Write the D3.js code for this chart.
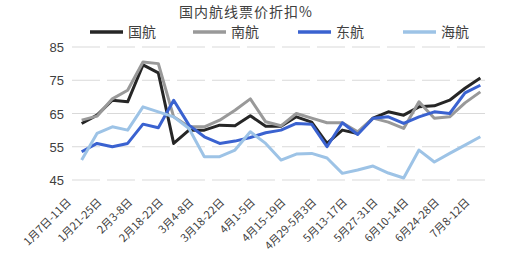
<!DOCTYPE html>
<html>
<head>
<meta charset="utf-8">
<script src="https://cdn.jsdelivr.net/npm/d3@7"></script>
<style>
  body { margin: 0; background: #fff; }
  svg text { font-family: "Noto Sans CJK SC", "Noto Sans", sans-serif; }
</style>
</head>
<body>
<svg id="chart" width="530" height="260"></svg>
<script>
// weekly periods, label shown every other week
var weeks = ["1月7日-11日","w2","1月21-25日","w4","2月3-8日","w6","2月18-22日","w8",
  "3月4-8日","w10","3月18-22日","w12","4月1-5日","w14","4月15-19日","w16",
  "4月29-5月3日","w18","5月13-17日","w20","5月27-31日","w22","6月10-14日","w24",
  "6月24-28日","w26","7月8-12日"];

var airCA   = [62, 64.5, 69, 68.5, 79.6, 77.2, 56, 60, 60, 61.5, 61.3, 64.3, 61.2, 61.2,
  64, 62.4, 56, 60, 59, 63.6, 65.5, 64.5, 67, 67.3, 69, 72.6, 75.7];
var csAir   = [63, 64.2, 69.4, 72, 80.5, 80, 64, 61, 61, 63, 66, 69.4, 62.5, 61.3,
  65, 63.6, 62.2, 62.2, 59.5, 63.6, 62.4, 60.5, 68.5, 63.6, 64, 68.2, 71.5];
var ceAir   = [53.5, 56, 55, 56, 61.8, 60.7, 69, 61.5, 58, 56, 56.7, 57.8, 59.2, 60,
  62, 61.8, 55, 62.2, 58.7, 63.6, 64, 62, 64, 65.5, 65, 71.2, 73.5];
var hainan  = [51, 59, 61, 60, 67, 65.5, 64, 60.5, 52, 52, 54, 59.5, 56, 51,
  52.8, 53, 51.6, 47, 48, 49.2, 47.1, 45.6, 54, 50.4, 53, 55.5, 58];

var seriesNames  = ["国航", "南航", "东航", "海航"];
var seriesColors = ["#262626", "#999999", "#3a62d0", "#9dc3e6"];
var yTicks = [45, 55, 65, 75, 85];

var svg = d3.select("#chart");

var x = d3.scaleBand().domain(weeks).range([74, 488]);
var y = d3.scaleLinear().domain([45, 85]).range([180, 47]);
var cx = function(d, i){ return x(weeks[i]) + x.bandwidth() / 2; };

// title
svg.append("text")
	.attr("x", 246).attr("y", 17)
	.attr("text-anchor", "middle")
	.style("font-size", "14px")
	.style("letter-spacing", "1px")
	.style("fill", "#404040")
	.text("国内航线票价折扣%");

// grid
svg.append("g").selectAll("line")
	.data(yTicks).enter().append("line")
	.attr("x1", 72).attr("x2", 487)
	.attr("y1", function(d){ return y(d); })
	.attr("y2", function(d){ return y(d); })
	.attr("stroke", "#d9d9d9")
	.attr("stroke-width", 1)
	.attr("stroke-dasharray", "28,7");

// y axis labels
svg.append("g").selectAll("text")
	.data(yTicks).enter().append("text")
	.attr("x", 64)
	.attr("y", function(d){ return y(d) + 5; })
	.attr("text-anchor", "end")
	.style("font-family", "Liberation Sans, Arial, sans-serif")
	.style("font-size", "13px")
	.style("fill", "#404040")
	.text(function(d){ return d; });

// x axis labels (every other week)
svg.append("g").selectAll("text")
	.data(weeks.filter(function(d, i){ return i % 2 == 0; }))
	.enter().append("text")
	.attr("transform", function(d){
		var px = x(d) + x.bandwidth() / 2 - 10;
		return "translate(" + px + ",203) rotate(-45)";
	})
	.attr("text-anchor", "end")
	.style("font-size", "11px")
	.style("fill", "#404040")
	.text(function(d){ return d; });

// lines
var line = d3.line()
	.x(cx)
	.y(function(d){ return y(d); });

[airCA, csAir, ceAir, hainan].forEach(function(vals, k){
	svg.append("path")
		.datum(vals)
		.attr("d", line)
		.attr("fill", "none")
		.attr("stroke", seriesColors[k])
		.attr("stroke-width", 3)
		.attr("stroke-linejoin", "round");
});

// legend
var legendX = [90, 193, 298, 403];
seriesNames.forEach(function(name, k){
	var g = svg.append("g").attr("transform", "translate(" + legendX[k] + ",32)");
	g.append("line")
		.attr("x1", 0).attr("x2", 33)
		.attr("stroke", seriesColors[k])
		.attr("stroke-width", 3.5);
	g.append("text")
		.attr("x", 38).attr("y", 5)
		.style("font-size", "14px")
		.style("fill", "#404040")
		.text(name);
});
</script>
</body>
</html>
